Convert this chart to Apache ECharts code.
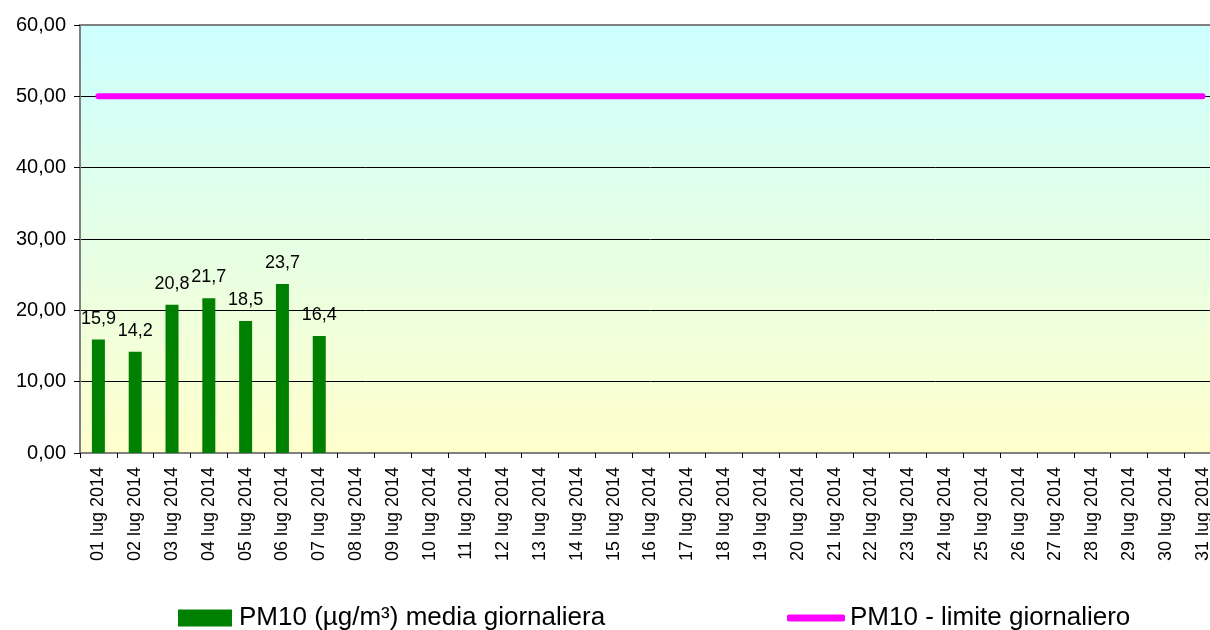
<!DOCTYPE html>
<html>
<head>
<meta charset="utf-8">
<script src="https://cdn.jsdelivr.net/npm/echarts@6/dist/echarts.min.js"></script>
<style>
html,body{margin:0;padding:0;background:#fff;overflow:hidden;width:1210px;height:630px;}
#chart{width:1221px;height:630px;}
</style>
</head>
<body>
<div id="chart"></div>
<script>
var categories = ['01 lug 2014','02 lug 2014','03 lug 2014','04 lug 2014','05 lug 2014','06 lug 2014','07 lug 2014','08 lug 2014','09 lug 2014','10 lug 2014','11 lug 2014','12 lug 2014','13 lug 2014','14 lug 2014','15 lug 2014','16 lug 2014','17 lug 2014','18 lug 2014','19 lug 2014','20 lug 2014','21 lug 2014','22 lug 2014','23 lug 2014','24 lug 2014','25 lug 2014','26 lug 2014','27 lug 2014','28 lug 2014','29 lug 2014','30 lug 2014','31 lug 2014'];
var pm10Daily = [15.9, 14.2, 20.8, 21.7, 18.5, 23.7, 16.4, null, null, null, null, null, null, null, null, null, null, null, null, null, null, null, null, null, null, null, null, null, null, null, null];
var pm10Limit = [50,50,50,50,50,50,50,50,50,50,50,50,50,50,50,50,50,50,50,50,50,50,50,50,50,50,50,50,50,50,50];
var yTickLabels = ['0,00','10,00','20,00','30,00','40,00','50,00','60,00'];
var seriesNames = ['PM10 (µg/m³) media giornaliera', 'PM10 - limite giornaliero'];

var FONT = 'Liberation Sans, Arial, sans-serif';
var chart = echarts.init(document.getElementById('chart'), null, {renderer:'canvas'});
chart.setOption({
  animation: false,
  backgroundColor: '#ffffff',
  grid: {
    left: 80, top: 25, bottom: 177, right: 0,
    show: true,
    borderColor: '#808080', borderWidth: 2,
    backgroundColor: {
      type: 'linear', x: 0, y: 0, x2: 0, y2: 1,
      colorStops: [{offset: 0, color: '#CCFFFF'}, {offset: 1, color: '#FFFFCC'}]
    }
  },
  legend: [{
    left: 173, top: 600,
    itemWidth: 54, itemHeight: 17, itemGap: 0,
    textStyle: {fontFamily: FONT, fontSize: 26, color: '#000', padding: [0,0,0,2]},
    data: [{name: seriesNames[0], icon: 'rect'}],
    selectedMode: false
  }, {
    left: 782, top: 600,
    itemWidth: 58, itemHeight: 7, itemGap: 0,
    textStyle: {fontFamily: FONT, fontSize: 26, color: '#000', padding: [0,0,0,0]},
    data: [{name: seriesNames[1], icon: 'roundRect'}],
    selectedMode: false
  }],
  xAxis: {
    type: 'category',
    data: categories,
    boundaryGap: true,
    axisLine: {show: true, lineStyle: {color: '#808080', width: 2}},
    axisTick: {show: true, length: 5, inside: false, alignWithLabel: false, lineStyle: {color: '#000'}},
    axisLabel: {rotate: 90, interval: 0, margin: 14, fontFamily: FONT, fontSize: 18, color: '#000'},
    splitLine: {show: false}
  },
  yAxis: {
    type: 'value',
    min: 0, max: 60, interval: 10,
    axisLine: {show: true, lineStyle: {color: '#808080', width: 2}},
    axisTick: {show: true, length: 6, lineStyle: {color: '#000'}},
    axisLabel: {
      margin: 14, fontFamily: FONT, fontSize: 20, color: '#000',
      formatter: function (v) { return yTickLabels[Math.round(v / 10)]; }
    },
    splitLine: {show: true, lineStyle: {color: ['#000','#000','#000','#000','#000','#000','#808080'], width: 1}}
  },
  series: [{
    name: seriesNames[0],
    type: 'bar',
    data: pm10Daily,
    barWidth: 13,
    itemStyle: {color: '#008000'},
    label: {
      show: true, position: 'top', distance: 12,
      fontFamily: FONT, fontSize: 18, color: '#000',
      formatter: function (p) { return p.value == null ? '' : String(p.value).replace('.', ','); }
    }
  }, {
    name: seriesNames[1],
    type: 'line',
    data: pm10Limit,
    symbol: 'none',
    itemStyle: {color: '#FF00FF'},
    lineStyle: {color: '#FF00FF', width: 6, cap: 'round'},
    z: 3
  }]
});
</script>
</body>
</html>
